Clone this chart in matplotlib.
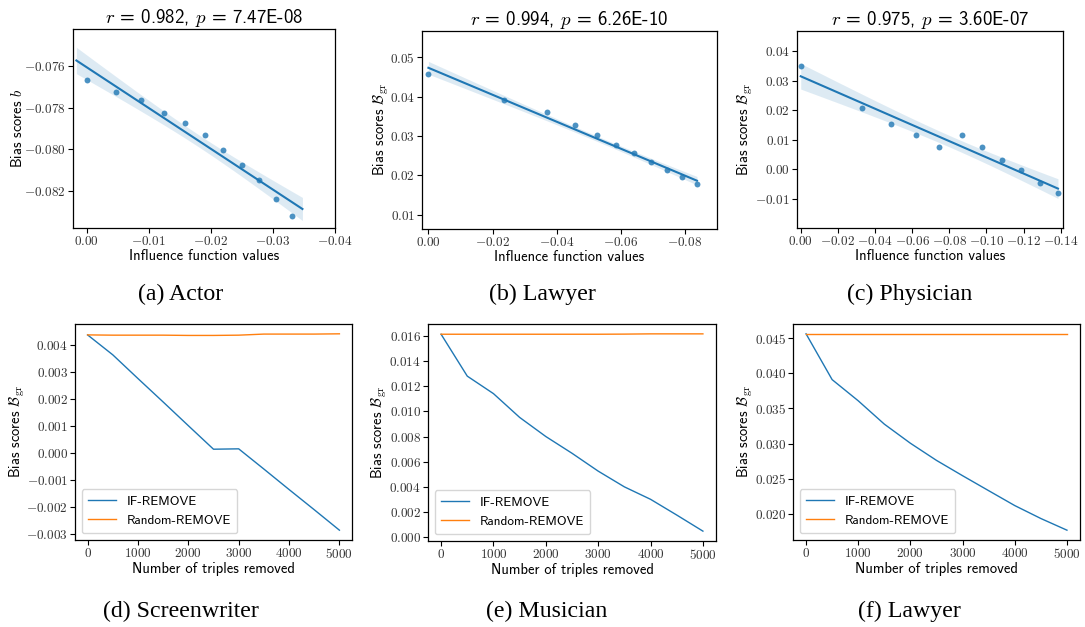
import numpy as np
import matplotlib
matplotlib.use('Agg')
import matplotlib.pyplot as plt
from matplotlib.ticker import FuncFormatter, MultipleLocator

plt.rcParams['font.family'] = ['cmss10', 'DejaVu Sans']
plt.rcParams['mathtext.fontset'] = 'cm'
plt.rcParams['axes.unicode_minus'] = False

# top row: influence function values vs bias scores
actor_if = [0.0, -0.0048, -0.0088, -0.0124, -0.0158, -0.0191, -0.0220, -0.0250, -0.0278, -0.0305, -0.0331]
actor_bias = [-0.07666, -0.07723, -0.07761, -0.07826, -0.07873, -0.07932, -0.08002, -0.08073, -0.08148, -0.08237, -0.08323]

lawyer_if = [0.0, -0.02365, -0.03698, -0.04573, -0.0525, -0.05854, -0.06417, -0.06927, -0.07437, -0.07906, -0.08375]
lawyer_bias = [0.04568, 0.03924, 0.03602, 0.03288, 0.03017, 0.02780, 0.02559, 0.02331, 0.02127, 0.01949, 0.01780]

phys_if = [0.0, -0.0328, -0.0484, -0.0621, -0.0746, -0.0866, -0.0978, -0.1085, -0.1188, -0.1288, -0.1385]
phys_bias = [0.03493, 0.02079, 0.01527, 0.01167, 0.00766, 0.01167, 0.00766, 0.00327, -0.0002, -0.0045, -0.0080]

top_rvals = ['0.982', '0.994', '0.975']
top_pvals = ['7.47E-08', '6.26E-10', '3.60E-07']
top_ylabels = [r'Bias scores $b$', r'Bias scores $\mathcal{B}_{\rm gr}$', r'Bias scores $\mathcal{B}_{\rm gr}$']
top_captions = ['(a) Actor', '(b) Lawyer', '(c) Physician']

# bottom row: removal experiments
removed = [0, 500, 1000, 1500, 2000, 2500, 3000, 3500, 4000, 4500, 5000]
screen_if = [0.00438, 0.00364, 0.00276, 0.00189, 0.00101, 0.000136, 0.00015, -0.0006, -0.00136, -0.00211, -0.00287]
screen_rand = [0.00438, 0.00437, 0.00437, 0.00437, 0.00436, 0.00436, 0.00437, 0.00441, 0.00441, 0.00441, 0.00442]
music_if = [0.01613, 0.0128, 0.01141, 0.00952, 0.0080, 0.00667, 0.00525, 0.0040, 0.00301, 0.00176, 0.00048]
music_rand = [0.01613, 0.01613, 0.01613, 0.01613, 0.01613, 0.01613, 0.01613, 0.01614, 0.01616, 0.01616, 0.01616]
lawyer2_if = [0.04562, 0.03910, 0.03609, 0.03277, 0.03005, 0.02761, 0.02543, 0.02330, 0.02118, 0.01934, 0.01768]
lawyer2_rand = [0.04562, 0.04562, 0.04562, 0.04562, 0.04562, 0.04562, 0.04562, 0.04562, 0.04562, 0.04562, 0.04562]
bottom_captions = ['(d) Screenwriter', '(e) Musician', '(f) Lawyer']

W, H = 1085, 627
fig = plt.figure(figsize=(W / 100, H / 100), dpi=100)

TICK_FS = 9.5
LABEL_FS = 10.5
CAP_FS = 17.2


def px_axes(l, r, t, b):
    return fig.add_axes([l / W, 1 - b / H, (r - l) / W, (b - t) / H])


def math_fmt(dec):
    return FuncFormatter(lambda v, pos: r'$%s$' % (('%.' + str(dec) + 'f') % v))


def regplot(ax, x, y, extend):
    # line fit plus a 95% confidence band, seaborn style
    x = np.asarray(x)
    y = np.asarray(y)
    b, a = np.polyfit(x, y, 1)
    if extend:
        span = x.max() - x.min()
        grid = np.linspace(x.max() + 0.05 * span, x.min() - 0.05 * span, 100)
    else:
        grid = np.linspace(x.max(), x.min(), 100)
    n = len(x)
    resid = y - (a + b * x)
    s = np.sqrt(np.sum(resid ** 2) / (n - 2))
    sxx = np.sum((x - x.mean()) ** 2)
    se = s * np.sqrt(1 / n + (grid - x.mean()) ** 2 / sxx)
    yhat = a + b * grid
    ax.fill_between(grid, yhat - 2.262 * se, yhat + 2.262 * se, color='#1f77b4', alpha=0.15, lw=0)
    ax.plot(grid, yhat, color='#1f77b4', lw=1.5)
    ax.scatter(x, y, s=18, color='#1f77b4', alpha=0.8, lw=0, zorder=3)


def style(ax, box, label_x):
    ax.tick_params(labelsize=TICK_FS, length=3.5, width=0.8, pad=1.5, labelcolor='#333333')
    for sp in ax.spines.values():
        sp.set_linewidth(0.9)
    l, r = box[0], box[1]
    ax.yaxis.set_label_coords((label_x - l) / (r - l), 0.5)
    ax.yaxis.label.set_va('center')


top_boxes = [(73, 335, 29, 228), (422, 717, 31, 229), (797, 1063, 31, 228)]
top_x = [actor_if, lawyer_if, phys_if]
top_y = [actor_bias, lawyer_bias, phys_bias]
top_xlim = [(0.0022, -0.04), (0.002, -0.09), (0.002, -0.1412)]
top_ylim = [(-0.08379, -0.0742), (0.00636, 0.0567), (-0.01982, 0.04676)]
top_xstep = [0.01, 0.02, 0.02]
top_ystep = [0.002, 0.01, 0.01]
top_ydec = [3, 2, 2]
top_extend = [True, False, False]
top_capx = [181, 542, 910]
top_labx = [18, 381, 745]

for i in range(3):
    ax = px_axes(*top_boxes[i])
    regplot(ax, top_x[i], top_y[i], top_extend[i])
    ax.set_xlim(*top_xlim[i])
    ax.set_ylim(*top_ylim[i])
    ax.xaxis.set_major_locator(MultipleLocator(top_xstep[i]))
    ax.yaxis.set_major_locator(MultipleLocator(top_ystep[i]))
    ax.xaxis.set_major_formatter(math_fmt(2))
    ax.yaxis.set_major_formatter(math_fmt(top_ydec[i]))
    ax.set_xlabel('Influence function values', fontsize=LABEL_FS, labelpad=1)
    ax.set_ylabel(top_ylabels[i], fontsize=LABEL_FS)
    style(ax, top_boxes[i], top_labx[i])
    ax.set_title(r'$r$ = %s, $p$ = %s' % (top_rvals[i], top_pvals[i]), fontsize=13.6, pad=3)
    fig.text(top_capx[i] / W, 1 - 294 / H, top_captions[i], ha='center', va='center',
             fontsize=CAP_FS, family='Liberation Serif')

bottom_boxes = [(75, 352, 324, 540), (428, 716, 324, 541), (793, 1080, 324, 540)]
bottom_if = [screen_if, music_if, lawyer2_if]
bottom_rand = [screen_rand, music_rand, lawyer2_rand]
bottom_ystep = [0.001, 0.002, 0.005]
bottom_capx = [181, 547, 909]
bottom_labx = [17, 379, 745]

for i in range(3):
    ax = px_axes(*bottom_boxes[i])
    ax.plot(removed, bottom_if[i], color='#1f77b4', lw=1.0, label='IF-REMOVE')
    ax.plot(removed, bottom_rand[i], color='#ff7f0e', lw=1.0, label='Random-REMOVE')
    ax.yaxis.set_major_locator(MultipleLocator(bottom_ystep[i]))
    ax.xaxis.set_major_locator(MultipleLocator(1000))
    ax.xaxis.set_major_formatter(math_fmt(0))
    ax.yaxis.set_major_formatter(math_fmt(3))
    ax.set_xlabel('Number of triples removed', fontsize=LABEL_FS, labelpad=1)
    ax.set_ylabel(r'Bias scores $\mathcal{B}_{\rm gr}$', fontsize=LABEL_FS)
    style(ax, bottom_boxes[i], bottom_labx[i])
    ax.legend(loc='lower left', fontsize=9.5, handlelength=2.1, borderpad=0.5)
    fig.text(bottom_capx[i] / W, 1 - 611 / H, bottom_captions[i], ha='center', va='center',
             fontsize=CAP_FS, family='Liberation Serif')

fig.savefig('out.png', dpi=100)
